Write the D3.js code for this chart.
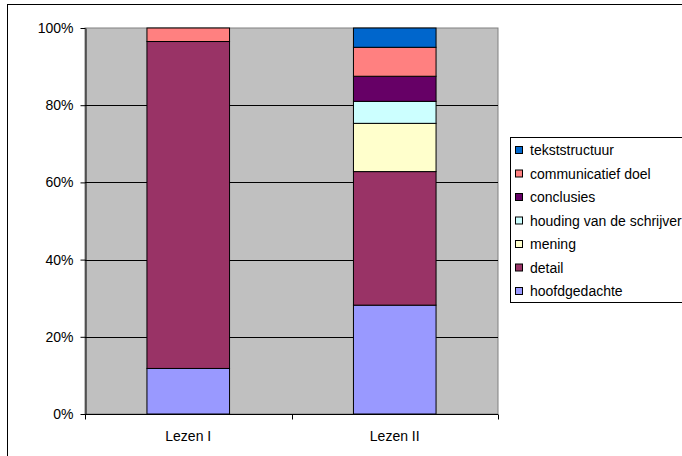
<!DOCTYPE html>
<html>
<head>
<meta charset="utf-8">
<script src="https://cdn.jsdelivr.net/npm/d3@7"></script>
<style>
  html, body { margin: 0; padding: 0; background: #fff; overflow: hidden; }
  svg { display: block; font-family: Arial, "Liberation Sans", sans-serif; }
</style>
</head>
<body>
<svg id="chart" width="682" height="456"></svg>
<script>
// Categories (reading lessons) and question types, in stacking order bottom → top
const categories = ["Lezen I", "Lezen II"];
const seriesNames = ["hoofdgedachte", "detail", "mening", "houding van de schrijver",
                     "conclusies", "communicatief doel", "tekststructuur"];
const seriesColors = ["#9999FF", "#993366", "#FFFFCC", "#CCFFFF", "#660066", "#FF8080", "#0066CC"];
// Share per question type (percent)
const lezenI  = [11.8, 84.7, 0, 0, 0, 3.5, 0];
const lezenII = [28.2, 34.6, 12.5, 5.7, 6.5, 7.5, 5.0];
const yTicks = [0, 20, 40, 60, 80, 100];

const FONT_SIZE = 14;
const svg = d3.select("#chart");

// Outer chart frame
svg.append("rect").attr("x", 7.5).attr("y", 4.5).attr("width", 720).attr("height", 480)
  .attr("fill", "#fff").attr("stroke", "#000").attr("stroke-width", 1);

const plot = { left: 85, right: 498, top: 28, bottom: 414 };

const x = d3.scaleBand().domain(categories).range([plot.left, plot.right]).padding(0);
const y = d3.scaleLinear().domain([0, 100]).range([plot.bottom, plot.top]);

// Plot area background
svg.append("rect")
  .attr("x", plot.left).attr("y", plot.top)
  .attr("width", plot.right - plot.left).attr("height", plot.bottom - plot.top)
  .attr("fill", "#C0C0C0").attr("stroke", "#808080").attr("stroke-width", 1);

// Horizontal gridlines
svg.append("g").selectAll("line").data(yTicks.filter(t => t > 0 && t < 100)).join("line")
  .attr("x1", plot.left).attr("x2", plot.right)
  .attr("y1", d => Math.round(y(d)) + 0.5).attr("y2", d => Math.round(y(d)) + 0.5)
  .attr("stroke", "#000").attr("stroke-width", 1);

// Stacked data
const rows = categories.map((c, i) => {
  const vals = i === 0 ? lezenI : lezenII;
  const r = { category: c };
  seriesNames.forEach((s, j) => r[s] = vals[j]);
  return r;
});
const stack = d3.stack().keys(seriesNames)(rows);

const barW = x.bandwidth() / 2.5;
const layers = svg.append("g").selectAll("g").data(stack).join("g")
  .attr("fill", (d, i) => seriesColors[i]);
layers.selectAll("rect")
  .data(d => d.filter(p => p[1] - p[0] > 0))
  .join("rect")
  .attr("x", d => x(d.data.category) + (x.bandwidth() - barW) / 2)
  .attr("y", d => y(d[1]))
  .attr("width", barW)
  .attr("height", d => y(d[0]) - y(d[1]))
  .attr("stroke", "#000").attr("stroke-width", 1);

// Y axis
const yAxis = d3.axisLeft(y).tickValues(yTicks).tickFormat(d => d + "%")
  .tickSize(5).tickSizeOuter(0).tickPadding(7);
const yg = svg.append("g").attr("transform", `translate(${plot.left + 0.5},0)`).call(yAxis);
yg.select(".domain").attr("stroke", "#000");
yg.selectAll(".tick line").attr("stroke", "#000");
yg.selectAll(".tick text").attr("font-size", FONT_SIZE).attr("fill", "#000")
  .attr("font-family", "Arial, 'Liberation Sans', sans-serif");

// X axis: tick marks at category boundaries, labels centred under each bar
const xg = svg.append("g").attr("transform", `translate(0,${plot.bottom + 0.5})`);
xg.append("line").attr("x1", plot.left).attr("x2", plot.right).attr("stroke", "#000");
const bounds = categories.map(c => x(c)).concat([x(categories[categories.length - 1]) + x.bandwidth()]);
xg.selectAll("line.tk").data(bounds).join("line").attr("class", "tk")
  .attr("x1", d => Math.round(d) + 0.5).attr("x2", d => Math.round(d) + 0.5)
  .attr("y1", 0).attr("y2", 5).attr("stroke", "#000");
xg.selectAll("text").data(categories).join("text")
  .attr("x", d => x(d) + x.bandwidth() / 2)
  .attr("y", 26.5)
  .attr("text-anchor", "middle")
  .attr("font-size", FONT_SIZE).attr("fill", "#000")
  .text(d => d);

// Legend (top entry = top of stack)
const legend = svg.append("g");
legend.append("rect").attr("x", 510.5).attr("y", 137.5).attr("width", 200).attr("height", 165)
  .attr("fill", "#fff").attr("stroke", "#000");
const legendItems = seriesNames.map((s, i) => ({ name: s, color: seriesColors[i] })).reverse();
const li = legend.selectAll("g.item").data(legendItems).join("g").attr("class", "item")
  .attr("transform", (d, i) => `translate(0,${150 + i * 23.5})`);
li.append("rect").attr("x", 515.5).attr("y", -3.5).attr("width", 7).attr("height", 7)
  .attr("fill", d => d.color).attr("stroke", "#000");
li.append("text").attr("x", 530).attr("y", 0).attr("dy", "0.36em")
  .attr("font-size", FONT_SIZE).attr("fill", "#000").text(d => d.name);
</script>
</body>
</html>
